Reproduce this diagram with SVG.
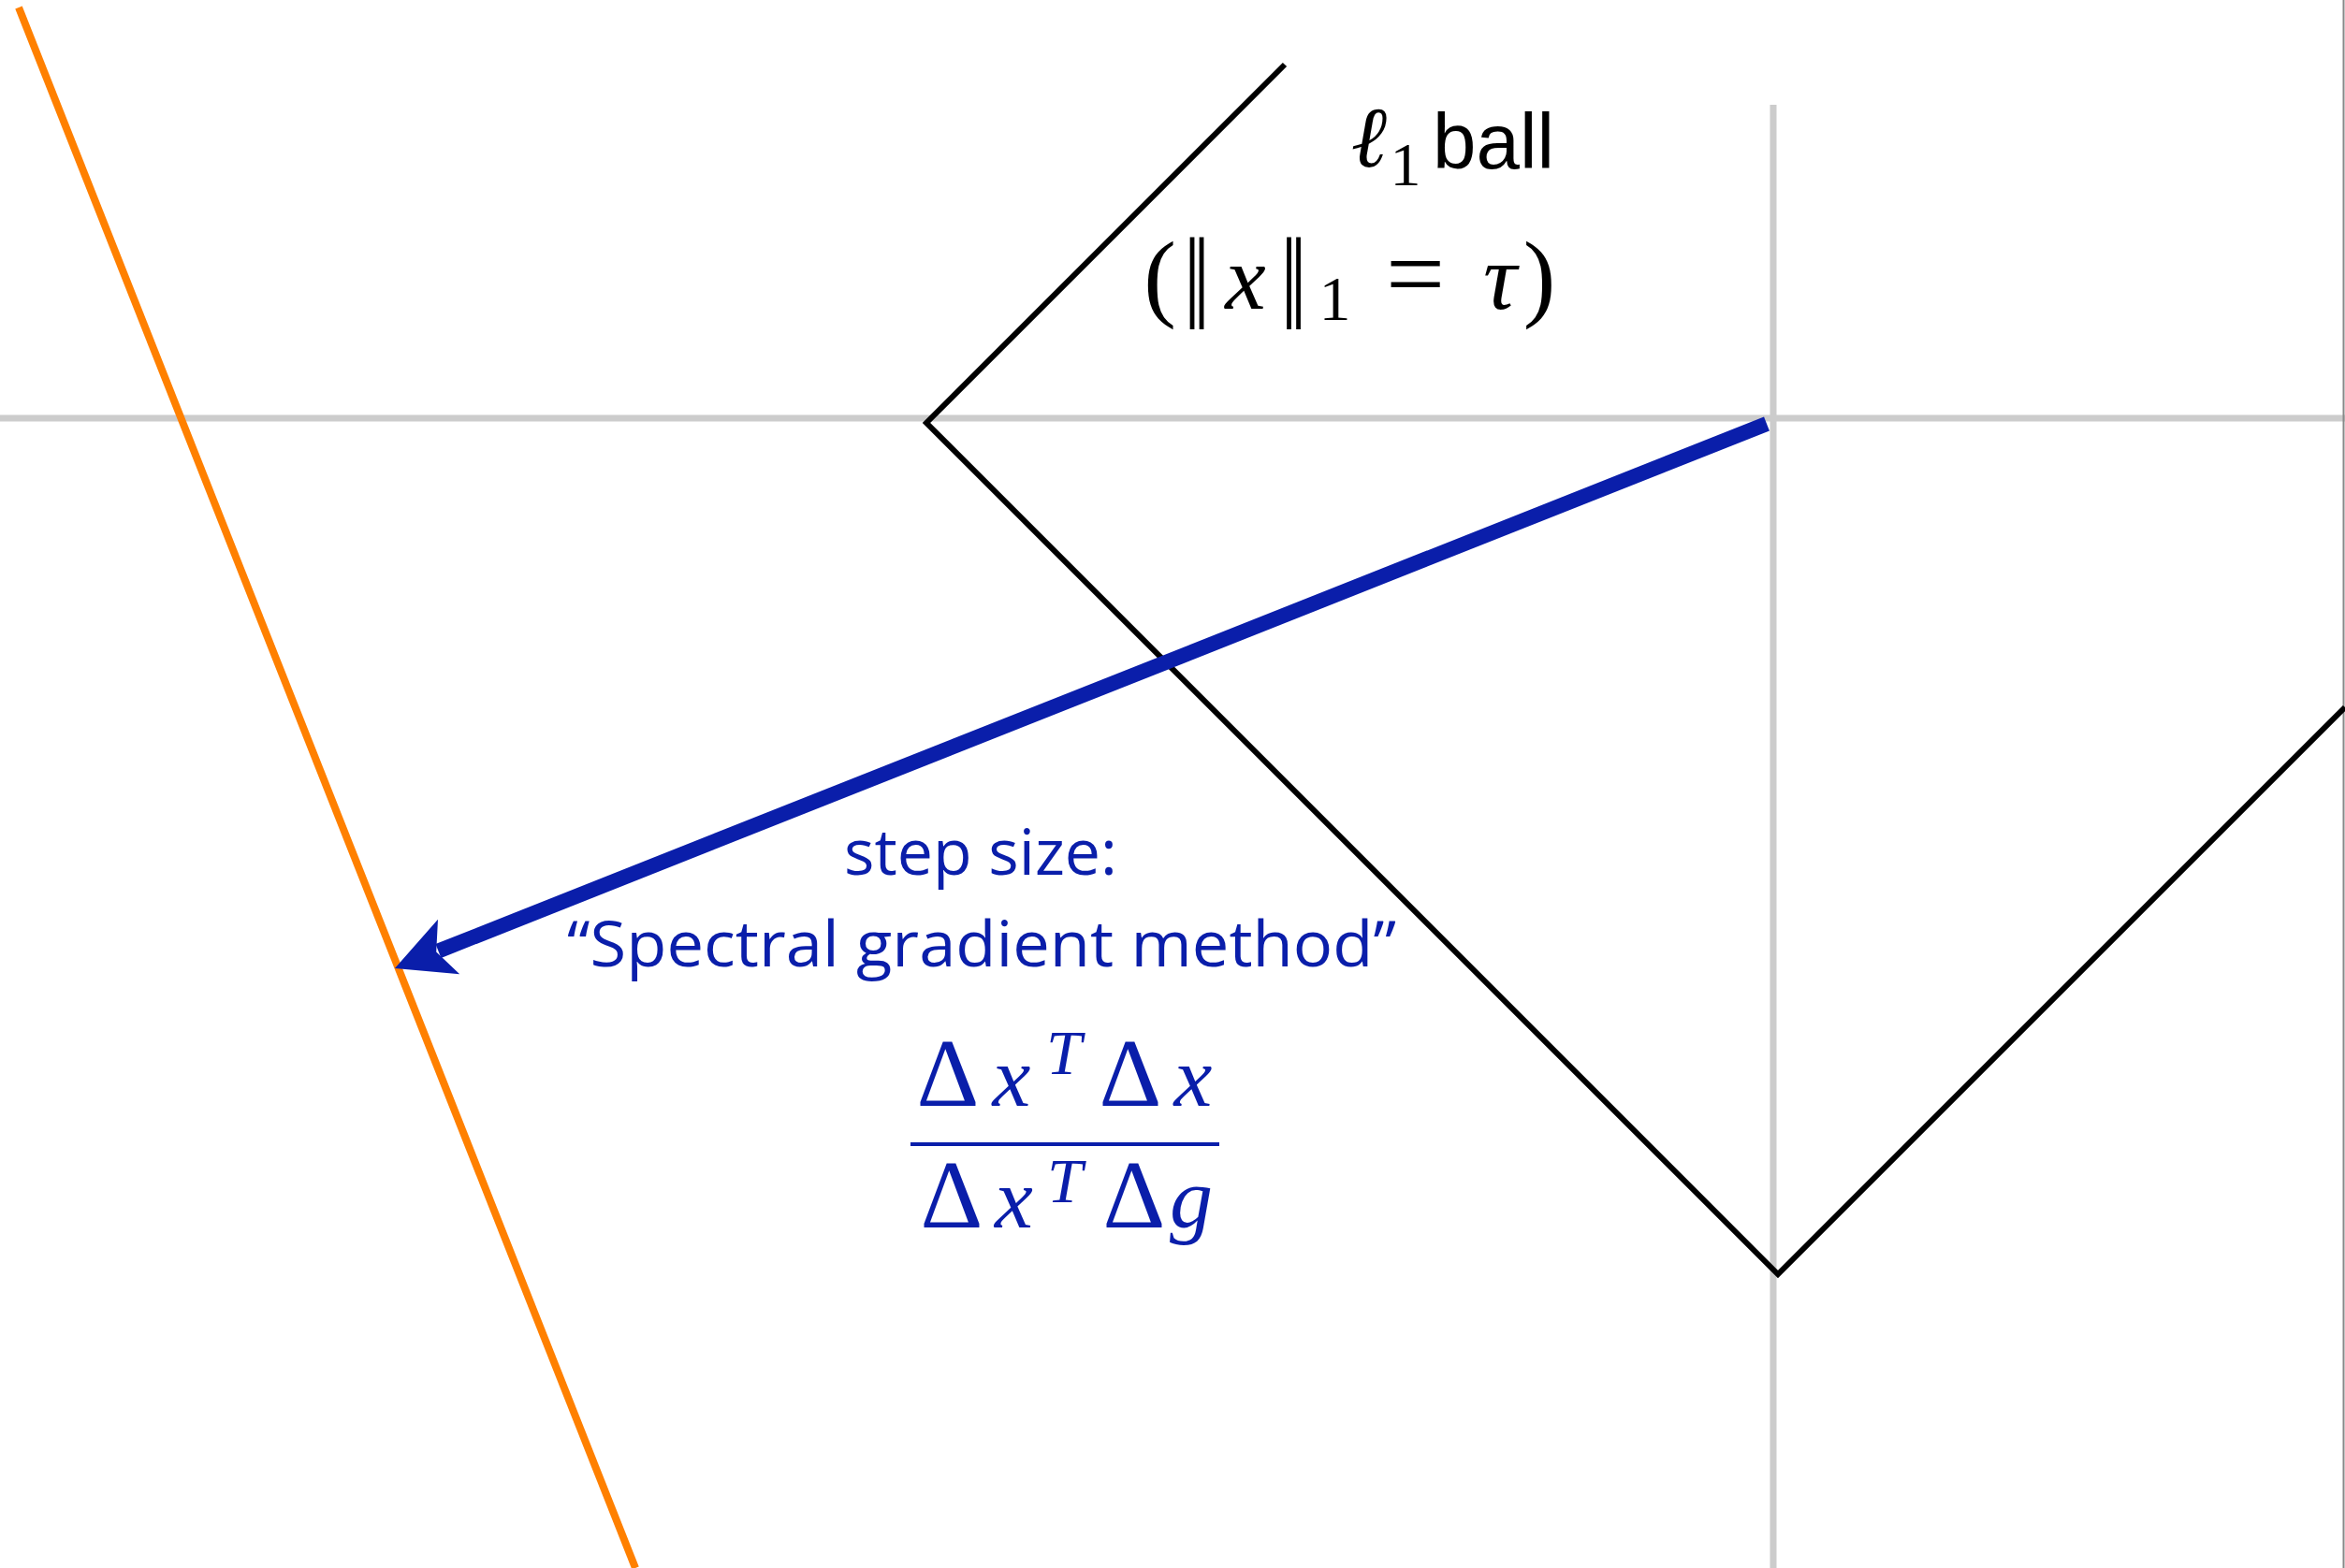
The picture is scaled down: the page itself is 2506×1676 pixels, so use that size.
<svg xmlns="http://www.w3.org/2000/svg" width="2506" height="1676" viewBox="0 0 2506 1676">
<style>
.axis{stroke:#cccccc;stroke-width:7;fill:none}
.ball{stroke:#000000;stroke-width:6;fill:none;stroke-linejoin:miter}
.cons{stroke:#ff8000;stroke-width:8;fill:none}
.step{stroke:#0a1eaa;stroke-width:16;fill:none}
.serif{font-family:"Liberation Serif","DejaVu Serif","DejaVu Sans",serif}
.it{font-style:italic}
.sans{font-family:"Liberation Sans","DejaVu Sans",sans-serif}
.lbl{font-family:"Open Sans","Liberation Sans",sans-serif;fill:#0a1eaa}
.bluem{fill:#0a1eaa}
</style>
<defs>
<marker id="head" viewBox="-70 -40 80 80" markerUnits="userSpaceOnUse" markerWidth="80" markerHeight="80" refX="-50" refY="0" orient="auto">
<path d="M0,0 L-62,-31.5 L-47.6,0 L-62,31.5 Z" fill="#0a1eaa"/>
</marker>
</defs>
<rect width="2506" height="1676" fill="#ffffff"/>
<g id="axes">
<line class="axis" x1="0" y1="447" x2="2506" y2="447"/>
<line class="axis" x1="1895" y1="112" x2="1895" y2="1676"/>
<line x1="2504.5" y1="0" x2="2504.5" y2="1676" stroke="#888888" stroke-width="2"/>
</g>
<g id="l1-ball">
<polyline class="ball" points="1373,69 990,452 1900,1362 2506,756"/>
</g>
<g id="constraint-line">
<line class="cons" x1="20" y1="8" x2="679" y2="1676"/>
</g>
<g id="connectors">
<line class="step" x1="1888" y1="453" x2="468.45" y2="1016.5" marker-end="url(#head)"/>
</g>
<g id="label-l1ball">
<text class="serif it" x="1463" y="178" font-size="92" text-anchor="middle">ℓ</text>
<text class="serif" x="1502" y="198" font-size="66" text-anchor="middle">1</text>
<text class="sans" x="1531" y="180" font-size="84" textLength="130" lengthAdjust="spacingAndGlyphs">ball</text>
</g>
<g id="label-norm">
<text class="serif" x="1239.5" y="330" font-size="104" text-anchor="middle">(</text>
<text class="serif" transform="translate(1279,352) scale(1,1.42)" font-size="100" text-anchor="middle">‖</text>
<text class="serif it" x="1331" y="330" font-size="98" text-anchor="middle">x</text>
<text class="serif" transform="translate(1382.5,352) scale(1,1.42)" font-size="100" text-anchor="middle">‖</text>
<text class="serif" x="1426.5" y="342" font-size="68" text-anchor="middle">1</text>
<text class="serif" x="1512.5" y="330" font-size="112" text-anchor="middle">=</text>
<text class="serif it" x="1603" y="330" font-size="100" text-anchor="middle">τ</text>
<text class="serif" x="1645" y="330" font-size="104" text-anchor="middle">)</text>
</g>
<g id="label-step">
<text class="lbl" x="1048" y="935" font-size="68" text-anchor="middle" textLength="292" lengthAdjust="spacingAndGlyphs">step size:</text>
<text class="lbl" x="1049" y="1033" font-size="68" text-anchor="middle" textLength="886" lengthAdjust="spacingAndGlyphs">“Spectral gradient method”</text>
</g>
<g id="label-fraction" class="bluem">
<text class="serif" x="1013" y="1182" font-size="104" text-anchor="middle">Δ</text>
<text class="serif it" x="1081" y="1182" font-size="92" text-anchor="middle">x</text>
<text class="serif it" x="1137" y="1148" font-size="68" text-anchor="middle">T</text>
<text class="serif" x="1208" y="1182" font-size="104" text-anchor="middle">Δ</text>
<text class="serif it" x="1275" y="1182" font-size="92" text-anchor="middle">x</text>
<line x1="973" y1="1223" x2="1303" y2="1223" stroke="#0a1eaa" stroke-width="4"/>
<text class="serif" x="1017" y="1312" font-size="104" text-anchor="middle">Δ</text>
<text class="serif it" x="1083.5" y="1312" font-size="92" text-anchor="middle">x</text>
<text class="serif it" x="1138" y="1285" font-size="68" text-anchor="middle">T</text>
<text class="serif" x="1212" y="1312" font-size="104" text-anchor="middle">Δ</text>
<text class="serif it" x="1273" y="1312" font-size="92" text-anchor="middle">g</text>
</g>
</svg>
